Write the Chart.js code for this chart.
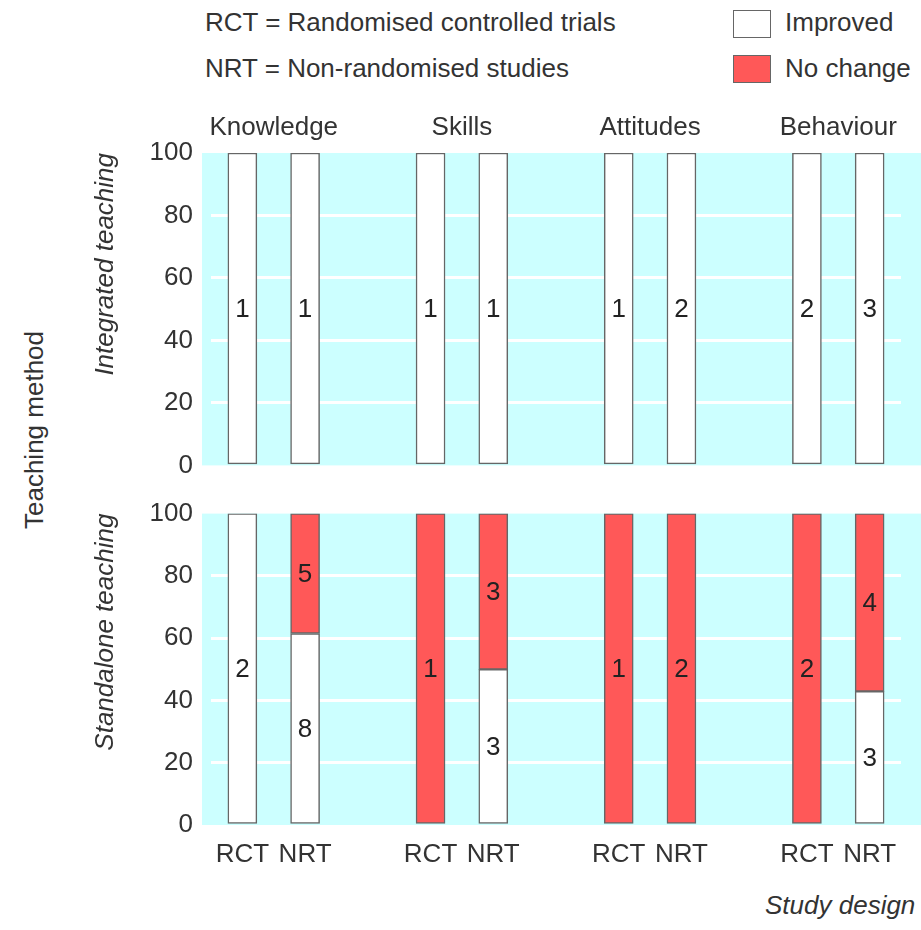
<!DOCTYPE html>
<html>
<head>
<meta charset="utf-8">
<script src="https://cdn.jsdelivr.net/npm/chart.js@4.4.0/dist/chart.umd.min.js"></script>
<style>
  body { margin: 0; background: #fff; overflow: hidden; }
  #wrap { position: relative; width: 921px; height: 930px; overflow: hidden;
          font-family: 'Liberation Sans', Arial, sans-serif; color: #333; font-size: 26px; }
  .txt { position: absolute; white-space: nowrap; line-height: 1; }
  .box { position: absolute; width: 38px; height: 28px; border: 1.5px solid #666; box-sizing: border-box; }
  canvas { position: absolute; left: 0; }
</style>
</head>
<body>
<div id="wrap">
  <div class="txt" style="left:205px; top:9px;">RCT = Randomised controlled trials</div>
  <div class="txt" style="left:205px; top:55px;">NRT = Non-randomised studies</div>
  <div class="box" style="left:733px; top:10px; background:#fff;"></div>
  <div class="box" style="left:733px; top:55px; background:#ff5858;"></div>
  <div class="txt" style="left:785px; top:9px;">Improved</div>
  <div class="txt" style="left:785px; top:55px;">No change</div>
  <div class="txt" style="left:34px; top:430px; transform: translate(-50%,-50%) rotate(-90deg);">Teaching method</div>
  <div class="txt" style="left:765px; top:892px; font-style:italic;">Study design</div>
  <div style="position:absolute; left:0; top:100px; width:921px; height:399px;"><canvas id="topChart"></canvas></div>
  <div style="position:absolute; left:0; top:480px; width:921px; height:410px;"><canvas id="bottomChart"></canvas></div>
</div>
<script>
// Study designs per slot (blank slots keep the gap between outcome groups)
const designs = ['RCT', 'NRT', '', 'RCT', 'NRT', '', 'RCT', 'NRT', '', 'RCT', 'NRT'];
const outcomes = ['Knowledge', 'Skills', 'Attitudes', 'Behaviour'];
const outcomeTicks = [0.5, 3.5, 6.5, 9.5];
const yTicks = [0, 20, 40, 60, 80, 100];

// Integrated teaching (% of studies)
const integratedImproved = [100, 100, null, 100, 100, null, 100, 100, null, 100, 100];
const integratedNoChange = [null, null, null, null, null, null, null, null, null, null, null];
const integratedImprovedN = [1, 1, null, 1, 1, null, 1, 2, null, 2, 3];
const integratedNoChangeN = [null, null, null, null, null, null, null, null, null, null, null];

// Standalone teaching (% of studies)
const standaloneImproved = [100, 61.5, null, null, 50, null, null, null, null, null, 42.9];
const standaloneNoChange = [null, 38.5, null, 100, 50, null, 100, 100, null, 100, 57.1];
const standaloneImprovedN = [2, 8, null, null, 3, null, null, null, null, null, 3];
const standaloneNoChangeN = [null, 5, null, 1, 3, null, 1, 2, null, 2, 4];

const FONT = 'Liberation Sans, Arial, sans-serif';
const TEXT = '#333';
const CYAN = '#ccffff';
const RED = '#ff5858';

// Cyan panel behind the bars
const panelBg = {
  id: 'panelBg',
  beforeDraw(chart) {
    const a = chart.chartArea;
    const ctx = chart.ctx;
    ctx.save();
    ctx.fillStyle = CYAN;
    ctx.fillRect(a.left - 9, a.top, chart.width - a.left + 9, a.bottom - a.top);
    ctx.restore();
  }
};

// Number of studies written in the middle of each bar segment
const countLabels = {
  id: 'countLabels',
  afterDatasetsDraw(chart) {
    const ctx = chart.ctx;
    ctx.save();
    ctx.font = '26px ' + FONT;
    ctx.fillStyle = '#222';
    ctx.textAlign = 'center';
    ctx.textBaseline = 'middle';
    chart.data.datasets.forEach((ds, di) => {
      const meta = chart.getDatasetMeta(di);
      meta.data.forEach((bar, i) => {
        const n = ds.counts[i];
        if (n == null || ds.data[i] == null) return;
        ctx.fillText(String(n), bar.x, (bar.y + bar.base) / 2 + 1);
      });
    });
    ctx.restore();
  }
};

function makeChart(id, improved, noChange, improvedN, noChangeN, title, isTop) {
  const scales = {
    x: {
      type: 'category',
      stacked: true,
      display: !isTop,
      grid: { display: false, drawTicks: false },
      border: { display: false },
      ticks: { color: TEXT, font: { family: FONT, size: 26 }, padding: 14, maxRotation: 0, autoSkip: false },
      afterFit: s => { if (!isTop) s.height = 65; }
    },
    y: {
      stacked: true,
      min: 0,
      max: 100,
      afterBuildTicks: axis => { axis.ticks = yTicks.map(v => ({ value: v })); },
      grid: {
        color: c => (c.tick.value > 0 && c.tick.value < 100) ? '#ffffff' : 'rgba(0,0,0,0)',
        lineWidth: 3,
        drawTicks: false
      },
      border: { display: false },
      ticks: { color: TEXT, font: { family: FONT, size: 26 }, padding: 18 },
      title: {
        display: true,
        text: title,
        align: 'end',
        color: TEXT,
        font: { family: FONT, size: 26, style: 'italic' },
        padding: { top: 90, bottom: 0 }
      },
      afterFit: s => { s.width = 211; }
    }
  };
  if (isTop) {
    scales.x2 = {
      type: 'linear',
      position: 'top',
      offset: false,
      min: -0.5,
      max: 10.5,
      afterBuildTicks: axis => { axis.ticks = outcomeTicks.map(v => ({ value: v })); },
      grid: { display: false, drawTicks: false },
      border: { display: false },
      ticks: { color: TEXT, font: { family: FONT, size: 26 }, padding: 10, autoSkip: false, maxRotation: 0,
               callback: (v, i) => outcomes[i] },
      afterFit: s => { s.height = 53; }
    };
  }
  return new Chart(document.getElementById(id), {
    type: 'bar',
    data: {
      labels: designs,
      datasets: [
        {
          label: 'Improved',
          data: improved,
          counts: improvedN,
          backgroundColor: '#ffffff',
          borderColor: '#666',
          borderWidth: 1.5,
          borderSkipped: false,
          barThickness: 29
        },
        {
          label: 'No change',
          data: noChange,
          counts: noChangeN,
          backgroundColor: RED,
          borderColor: '#666',
          borderWidth: 1.5,
          borderSkipped: false,
          barThickness: 29
        }
      ]
    },
    options: {
      responsive: true,
      maintainAspectRatio: false,
      animation: false,
      layout: { padding: { left: 0, right: 20, top: isTop ? 0 : 13, bottom: isTop ? 17 : 0 } },
      plugins: {
        legend: { display: false },
        tooltip: { enabled: false }
      },
      scales: scales
    },
    plugins: [panelBg, countLabels]
  });
}

makeChart('topChart', integratedImproved, integratedNoChange, integratedImprovedN, integratedNoChangeN, 'Integrated teaching', true);
makeChart('bottomChart', standaloneImproved, standaloneNoChange, standaloneImprovedN, standaloneNoChangeN, 'Standalone teaching', false);
</script>
</body>
</html>
